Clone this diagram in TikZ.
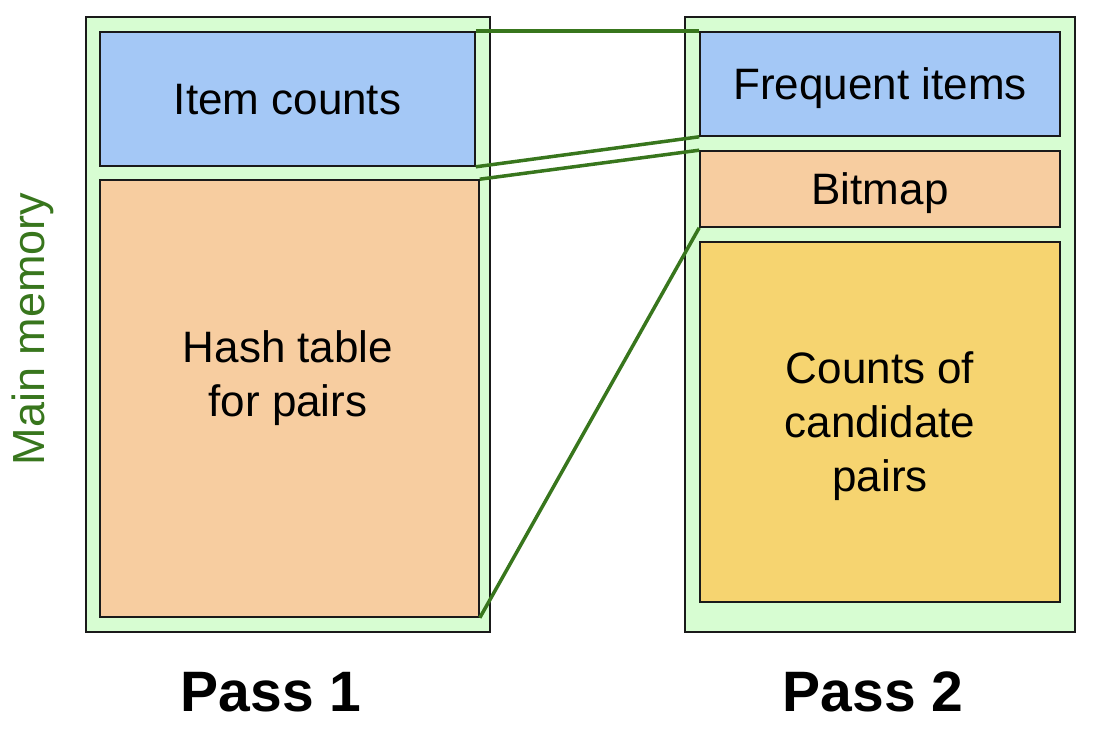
\documentclass[tikz,border=0pt]{standalone}
\usepackage{fontspec}
\setmainfont{Liberation Sans}
\usepackage{tikz}
\usetikzlibrary{positioning}
\definecolor{memgreen}{HTML}{D7FDD2}
\definecolor{linegreen}{HTML}{38761D}
\definecolor{cntblue}{HTML}{A4C8F6}
\definecolor{hashorange}{HTML}{F7CDA0}
\definecolor{candyellow}{HTML}{F6D470}
\definecolor{edge}{HTML}{1A1A1A}
\tikzstyle{memory} = [rectangle, draw=edge, line width=2pt, fill=memgreen, inner sep=0pt]
\tikzstyle{block} = [rectangle, draw=edge, line width=1.6pt, inner sep=0pt, align=center, text depth=0pt, font=\fontsize{44}{54}\selectfont]
\tikzstyle{link} = [line width=3.5pt, draw=linegreen]
\tikzstyle{passlabel} = [font=\fontsize{57}{62}\selectfont\bfseries]

\begin{document}
\begin{tikzpicture}[x=1pt, y=-1pt]
        \useasboundingbox (0,0) rectangle (1098,730);

        % Nodes
        \node (mem1) [memory, minimum width=404pt, minimum height=615pt] at (288,324.5) {};
        \node (mem2) [memory, minimum width=390pt, minimum height=615pt] at (880,324.5) {};
        \node (counts) [block, fill=cntblue, minimum width=375pt, minimum height=134pt] at (287.5,99) {Item counts};
        \node (hash) [block, fill=hashorange, minimum width=379pt, minimum height=437pt] at (289.5,398.5) {};
        \node (hashtext) [block, draw=none, fill=none] at (288,374) {Hash table\\for pairs};
        \node (freq) [block, fill=cntblue, minimum width=360pt, minimum height=104pt] at (880,84) {Frequent items};
        \node (bitmap) [block, fill=hashorange, minimum width=360pt, minimum height=76pt] at (880,189) {Bitmap};
        \node (cand) [block, fill=candyellow, minimum width=360pt, minimum height=360pt] at (880,422) {Counts of\\candidate\\pairs};
        \node (mainmem) [rotate=90, text=linegreen, font=\fontsize{45}{50}\selectfont] at (33,329) {Main memory};
        \node (pass1) [passlabel] at (271,692) {Pass 1};
        \node (pass2) [passlabel] at (873,692) {Pass 2};

        % Lines
        \draw [link] (counts.north east) -- (freq.north west);
        \draw [link] (counts.south east) -- (freq.south west);
        \draw [link] (hash.north east) -- (bitmap.north west);
        \draw [link] (hash.south east) -- (bitmap.south west);

    \end{tikzpicture}
\end{document}
